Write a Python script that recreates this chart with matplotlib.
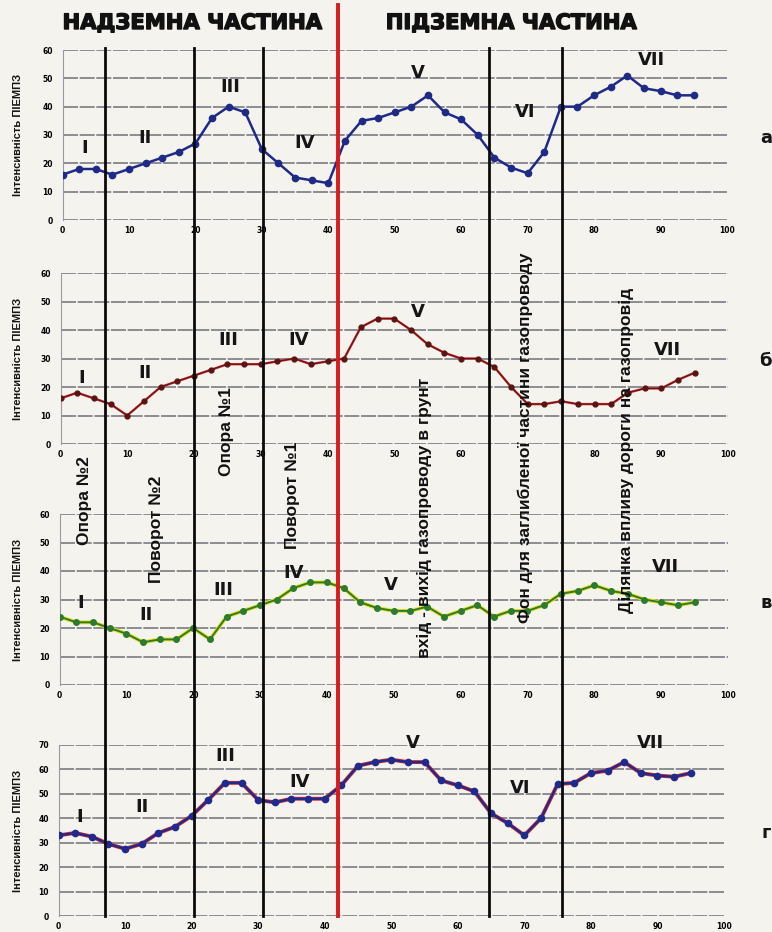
import matplotlib
matplotlib.use("Agg")
import matplotlib.pyplot as plt
from matplotlib import font_manager
from matplotlib.lines import Line2D
import matplotlib.patheffects as pe

# distance along the route, step 2.5
x_vals = [i * 2.5 for i in range(39)]

int_a = [16, 18, 18, 16, 18, 20, 22, 24, 27, 36, 40, 38, 25, 20, 15, 14, 13, 28, 35, 36,
         38, 40, 44, 38, 35.5, 30, 22, 18.5, 16.5, 24, 40, 40, 44, 47, 51, 46.5, 45.5, 44, 44]
int_b = [16, 18, 16, 14, 10, 15, 20, 22, 24, 26, 28, 28, 28, 29, 30, 28, 29, 30, 41, 44,
         44, 40, 35, 32, 30, 30, 27, 20, 14, 14, 15, 14, 14, 14, 18, 19.5, 19.5, 22.5, 25]
int_c = [24, 22, 22, 20, 18, 15, 16, 16, 20, 16, 24, 26, 28, 30, 34, 36, 36, 34, 29, 27,
         26, 26, 27.5, 24, 26, 28, 24, 26, 26, 28, 32, 33, 35, 33, 32, 30, 29, 28, 29]
int_d = [33, 34, 32.5, 29.5, 27.5, 29.5, 34, 36.5, 41, 47.5, 54.5, 54.5, 47.5, 46.5, 48, 48, 48, 53.5, 61.5, 63,
         64, 63, 63, 55.5, 53.5, 51, 42, 38, 33, 40, 54, 54.5, 58.5, 59.5, 63, 58.5, 57.5, 57, 58.5]

panel_letters = ["а", "б", "в", "г"]
ymax = [60, 60, 60, 70]

zone_names = ["I", "II", "III", "IV", "V", "VI", "VII"]
zone_pos = [
    {"I": (3.4, 25.4), "II": (12.4, 29), "III": (25.2, 47), "IV": (36.5, 27.2),
     "V": (53.5, 52), "VI": (69.6, 38.2), "VII": (88.7, 56.5)},
    {"I": (3.1, 23), "II": (12.7, 25), "III": (25.2, 36.5), "IV": (35.7, 36.5),
     "V": (53.6, 46.3), "VII": (91, 33)},
    {"I": (3.1, 28.8), "II": (12.9, 24.6), "III": (24.5, 33.3), "IV": (35, 39.3),
     "V": (49.5, 35), "VII": (90.6, 41.4)},
    {"I": (3.2, 40.4), "II": (12.5, 44.5), "III": (25, 65.7), "IV": (36.3, 55),
     "V": (53.2, 71), "VI": (69.4, 52.2), "VII": (88.9, 71)},
]

# section borders (distance units), red = above/under ground border
borders = [6.4, 19.8, 30.2, 64.2, 75.2]
ground_border = 41.5

objects = ["Опора №2", "Поворот №2", "Опора №1", "Поворот №1",
           "вхід - вихід газопроводу в грунт",
           "Фон для заглибленої частини газопроводу",
           "Ділянка впливу дороги на газопровід"]
obj_xy = [(85, 501), (157, 529), (227, 432), (293, 495), (425, 518), (525, 438), (626, 450)]

W, H = 772, 932
bg = "#f4f3ee"
fig = plt.figure(figsize=(W / 100, H / 100), dpi=100, facecolor=bg)

names = {f.name for f in font_manager.fontManager.ttflist}
narrow = "Liberation Sans Narrow" in names
nfam = "Liberation Sans Narrow" if narrow else "Liberation Sans"

# axes boxes in pixels: left, right, top, bottom
boxes = [(62.5, 727, 50, 220), (60.5, 728, 273, 444), (59.5, 728, 514, 685), (58.5, 724, 745, 916)]

def fx(px):
    return px / W

def fy(py):
    return 1 - py / H

axes = []
for l, r, t, b in boxes:
    ax = fig.add_axes([fx(l), fy(b), (r - l) / W, (b - t) / H])
    ax.set_facecolor("none")
    axes.append(ax)

series = [int_a, int_b, int_c, int_d]
for k, ax in enumerate(axes):
    y = series[k]
    if k == 0:
        ax.plot(x_vals, y, color="#1f2a86", lw=1.8, marker="o", ms=4.5, zorder=3)
    elif k == 1:
        ax.plot(x_vals, y, color="#c0282a", lw=1.7, zorder=3)
        ax.plot(x_vals, y, color="#5a1414", lw=0.7, marker="o", ms=3.5, zorder=4)
    elif k == 2:
        ax.plot(x_vals, y, color="#e6e01c", lw=2.8, zorder=3)
        ax.plot(x_vals, y, color="#2e7a2e", lw=1.4, marker="o", ms=4, zorder=4)
    else:
        ax.plot(x_vals, y, color="#d42a2a", lw=2.8, zorder=3)
        ax.plot(x_vals, y, color="#1f2a8c", lw=1.7, marker="o", ms=4.5, zorder=4)

    ax.set_xlim(0, 100)
    ax.set_ylim(0, ymax[k])
    xt = list(range(0, 101, 10))
    ax.set_xticks(xt)
    # in panel "б" the "70" label is covered by the vertical caption
    ax.set_xticklabels(["" if (k == 1 and v == 70) else str(v) for v in xt])
    ax.set_yticks(range(0, ymax[k] + 1, 10))
    ax.tick_params(length=0, labelsize=5.5, pad=4)
    ax.tick_params(axis="y", pad=7)
    for lab in ax.get_xticklabels() + ax.get_yticklabels():
        lab.set_fontweight("bold")
    ax.grid(axis="y", color="#7a7a84", lw=1.2, ls=(0, (9, 1)))
    for s in ["top", "right", "bottom"]:
        ax.spines[s].set_visible(False)
    ax.spines["left"].set_color("#9a9aa2")

    for nm in zone_names:
        if nm in zone_pos[k]:
            zx, zy = zone_pos[k][nm]
            ax.text(zx, zy, nm, ha="center", va="center", fontsize=13, fontweight="bold",
                    family="DejaVu Sans", color="#151515", clip_on=False, zorder=6)

    l, r, t, b = boxes[k]
    fig.text(fx(18), fy((t + b) / 2), "Інтенсивність ПІЕМПЗ", rotation=90, ha="center", va="center",
             fontsize=10.5 if narrow else 8, fontweight="bold", family=nfam, color="#151515")
    fig.text(fx(766), fy((t + b) / 2 + 3), panel_letters[k], ha="center", va="center",
             fontsize=13, fontweight="bold", family="DejaVu Sans", color="#151515")

# vertical section lines across all panels, in panel "а" distance units
l0, r0 = boxes[0][0], boxes[0][1]
def to_px(d):
    return l0 + d * (r0 - l0) / 100

for d in borders:
    fig.add_artist(Line2D([fx(to_px(d))] * 2, [fy(48), fy(916)], color="#0a0a0a", lw=2.0, zorder=10))
fig.add_artist(Line2D([fx(to_px(ground_border))] * 2, [fy(5), fy(916)], color="#d81c1c", lw=2.8, zorder=10))

hdr = [pe.withStroke(linewidth=1.0, foreground="#111111")]
fig.text(fx(193), fy(23), "НАДЗЕМНА ЧАСТИНА", ha="center", va="center", fontsize=15.2,
         fontweight="bold", family="DejaVu Sans", color="#111111", path_effects=hdr)
fig.text(fx(512), fy(23), "ПІДЗЕМНА ЧАСТИНА", ha="center", va="center", fontsize=15.2,
         fontweight="bold", family="DejaVu Sans", color="#111111", path_effects=hdr)

for txt, (px, py) in zip(objects, obj_xy):
    fig.text(fx(px), fy(py), txt, rotation=90, ha="center", va="center",
             fontsize=16 if narrow else 12.5, fontweight="bold", family=nfam, color="#111111", zorder=11)

fig.savefig("out.png", dpi=100, facecolor=bg)
